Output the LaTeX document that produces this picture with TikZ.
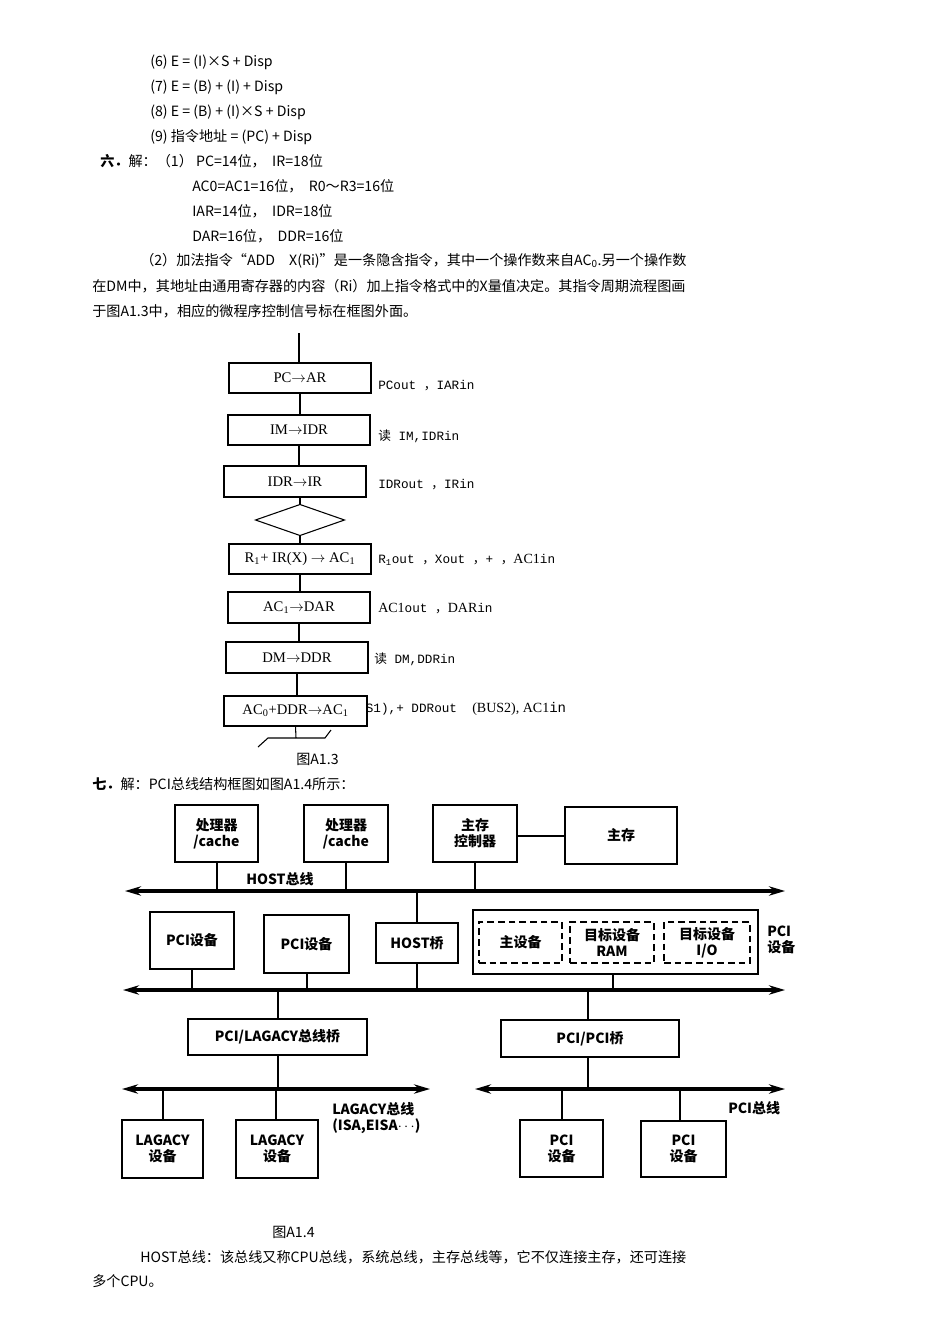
\documentclass[tikz,border=0pt]{standalone}
\usepackage{fontspec}
\setmainfont{Liberation Serif}
\newfontfamily\cjk{Noto Sans CJK SC}
\newfontfamily\mono{Liberation Mono}
\usetikzlibrary{shapes.geometric,arrows.meta}
\tikzset{
 txt/.style={anchor=west,inner sep=0pt,font=\cjk\fontsize{10.6}{12}\selectfont},
 flab/.style={anchor=west,inner sep=0pt,font=\mono\fontsize{9.5}{11}\selectfont},
 fbox/.style={draw,line width=0.8pt,inner sep=0pt,outer sep=0pt,fill=white,font=\fontsize{11}{12}\selectfont},
 bbox/.style={draw,line width=1.6pt,inner sep=0pt,outer sep=0pt,align=center,font=\cjk\bfseries\fontsize{10.5}{12}\selectfont},
 dbox/.style={bbox,dashed,dash pattern=on 5pt off 3pt},
 blab/.style={anchor=west,inner sep=0pt,align=left,font=\cjk\bfseries\fontsize{10.5}{12}\selectfont},
 conn/.style={line width=1.5pt},
 fconn/.style={line width=0.8pt},
 bus/.style={line width=2.4pt,{Stealth[length=12pt,width=7pt]}-{Stealth[length=12pt,width=7pt]}}
}
\newcommand{\bx}[7]{\node[#7,minimum width={(#4-#2)*0.75pt},minimum height={(#5-#3)*0.75pt}] (#1) at ({(#2+#4)/2},{(#3+#5)/2}) {#6};}
\begin{document}
\begin{tikzpicture}[x=0.75pt,y=-0.75pt]
\path[use as bounding box,fill=white] (0,0) rectangle (950,1344);
% top text
\node[txt] (t1) at (150,62) {(6) E = (I)×S + Disp};
\node[txt] (t2) at (150,87) {(7) E = (B) + (I) + Disp};
\node[txt] (t3) at (150,112) {(8) E = (B) + (I)×S + Disp};
\node[txt] (t4) at (150,137) {(9) 指令地址 = (PC) + Disp};
\node[txt] (t5) at (100,161) {{\bfseries 六．}解：（1） PC=14位，\ \ IR=18位};
\node[txt] (t6) at (192,186) {AC0=AC1=16位，\ \ R0～R3=16位};
\node[txt] (t7) at (192,211) {IAR=14位，\ \ IDR=18位};
\node[txt] (t8) at (192,236) {DAR=16位，\ \ DDR=16位};
\node[txt] (t9) at (140,261) {（2）加法指令“ADD\quad X(Ri)”是一条隐含指令，其中一个操作数来自AC\textsubscript{0}.另一个操作数};
\node[txt] (t10) at (92,286) {在DM中，其地址由通用寄存器的内容（Ri）加上指令格式中的X量值决定。其指令周期流程图画};
\node[txt] (t11) at (92,311) {于图A1.3中，相应的微程序控制信号标在框图外面。};
% flowchart
\coordinate (ftop) at (299,333);
\bx{f1}{229}{363}{371}{393}{PC$\rightarrow$AR}{fbox}
\bx{f2}{228}{415}{370}{445}{IM$\rightarrow$IDR}{fbox}
\bx{f3}{224}{466}{366}{497}{IDR$\rightarrow$IR}{fbox}
\node[diamond,draw,line width=0.8pt,minimum width=66.75pt,minimum height=23.25pt,inner sep=0pt,outer sep=0pt] (fd) at (300,520) {};
\bx{f4}{229}{544}{371}{574}{R\textsubscript{1}+ IR(X) $\rightarrow$ AC\textsubscript{1}}{fbox}
\bx{f5}{228}{592}{370}{623}{AC\textsubscript{1}$\rightarrow$DAR}{fbox}
\bx{f6}{226}{642}{368}{673}{DM$\rightarrow$DDR}{fbox}
\node[flab] (l7) at (358,709) {JS1),+ DDRout\ \ \fontsize{10.5}{12}\selectfont\rmfamily (BUS2), AC1\mono in};
\bx{f7}{224}{696}{367}{726}{AC\textsubscript{0}+DDR$\rightarrow$AC\textsubscript{1}}{fbox}
\node[flab] (l1) at (378,386) {PCout {\cjk ，}IARin};
\node[flab] (l2) at (378,436) {{\cjk 读} IM,IDRin};
\node[flab] (l3) at (378,485) {IDRout {\cjk ，}IRin};
\node[flab] (l4) at (378,560) {R\textsubscript{1}out {\cjk ，}Xout {\cjk ，}+ {\cjk ，}{\rmfamily\fontsize{10.5}{12}\selectfont AC1}in};
\node[flab] (l5) at (378,609) {{\rmfamily\fontsize{10.5}{12}\selectfont AC1}out {\cjk ，}{\rmfamily\fontsize{10.5}{12}\selectfont DAR}in};
\node[flab] (l6) at (374,659) {{\cjk 读} DM,DDRin};
\draw[fconn] (ftop) -- (ftop|-f1.north);
\draw[fconn] (f1.south) -- (f1.south|-f2.north);
\draw[fconn] (f2.south) -- (f2.south|-f3.north);
\draw[fconn] (fd.north|-f3.south) -- (fd.north);
\draw[fconn] (fd.south) -- (fd.south|-f4.north);
\draw[fconn] (f4.south) -- (f4.south|-f5.north);
\draw[fconn] (f5.south) -- (f5.south|-f6.north);
\draw[fconn] (f6.south) -- (f6.south|-f7.north);
\coordinate (fb) at (296,738);
\coordinate (fbl) at (268,738);
\coordinate (fbr) at (325,738);
\coordinate (fbl2) at (258,747);
\coordinate (fbr2) at (331,730);
\draw[fconn] (f7.south) -- (fb);
\draw[fconn] (fbl2) -- (fbl) -- (fbr) -- (fbr2);
\node[txt] (c1) at (296,759) {图A1.3};
\node[txt] (t12) at (92,784) {{\bfseries 七．}解：PCI总线结构框图如图A1.4所示：};
% bus diagram
\bx{p1}{175}{805}{258}{862}{处理器\\/cache}{bbox}
\bx{p2}{304}{805}{388}{862}{处理器\\/cache}{bbox}
\bx{mc}{433}{805}{517}{862}{主存\\控制器}{bbox}
\bx{mm}{565}{807}{677}{864}{主存}{bbox}
\draw[conn] (mc.east|-mm.west) -- (mm.west);
\coordinate (hl) at (125,891); \coordinate (hr) at (785,891);
\draw[bus] (hl) -- (hr);
\node[blab] (hlab) at (246,879) {HOST总线};
\draw[conn] (p1.south) -- (p1.south|-hl);
\draw[conn] (p2.south) -- (p2.south|-hl);
\draw[conn] (mc.south) -- (mc.south|-hl);
\bx{hb}{376}{923}{458}{963}{HOST桥}{bbox}
\bx{pd1}{150}{912}{234}{969}{PCI设备}{bbox}
\bx{pd2}{264}{915}{349}{973}{PCI设备}{bbox}
\bx{big}{473}{910}{758}{974}{}{bbox}
\bx{d1}{479}{922}{562}{963}{主设备}{dbox}
\bx{d2}{570}{922}{654}{963}{目标设备\\RAM}{dbox}
\bx{d3}{664}{922}{750}{963}{目标设备\\I/O}{dbox}
\node[blab] (pcilab) at (767,940) {PCI\\设备};
\coordinate (pl) at (123,990); \coordinate (pr) at (785,990);
\draw[bus] (pl) -- (pr);
\draw[conn] (hb.north|-hl) -- (hb.north);
\draw[conn] (hb.south) -- (hb.south|-pl);
\draw[conn] (pd1.south) -- (pd1.south|-pl);
\draw[conn] (pd2.south) -- (pd2.south|-pl);
\draw[conn] (613,974) coordinate (bigc) -- (bigc|-pl);
\bx{lb}{188}{1019}{367}{1055}{PCI/LAGACY总线桥}{bbox}
\bx{pb}{501}{1020}{679}{1057}{PCI/PCI桥}{bbox}
\draw[conn] (lb.north|-pl) -- (lb.north);
\draw[conn] (588,1020) coordinate (pbt) -- (pbt|-pl);
\coordinate (ll) at (122,1089); \coordinate (lr) at (430,1089);
\draw[bus] (ll) -- (lr);
\coordinate (ql) at (475,1089); \coordinate (qr) at (785,1089);
\draw[bus] (ql) -- (qr);
\draw[conn] (lb.south) -- (lb.south|-ll);
\draw[conn] (588,1057) coordinate (pbb) -- (pbb|-ql);
\bx{ld1}{122}{1120}{203}{1178}{LAGACY\\设备}{bbox}
\bx{ld2}{236}{1120}{318}{1178}{LAGACY\\设备}{bbox}
\bx{qd1}{520}{1120}{603}{1177}{PCI\\设备}{bbox}
\bx{qd2}{641}{1121}{726}{1177}{PCI\\设备}{bbox}
\draw[conn] (ld1.north) -- (ld1.north|-ll);
\draw[conn] (276,1120) coordinate (ld2t) -- (ld2t|-ll);
\draw[conn] (562,1120) coordinate (qd1t) -- (qd1t|-ql);
\draw[conn] (680,1121) coordinate (qd2t) -- (qd2t|-ql);
\node[blab] (llab) at (332,1118) {LAGACY总线\\(ISA,EISA$\cdots$)};
\node[blab] (qlab) at (728,1108) {PCI总线};
\node[txt] (c2) at (272,1232) {图A1.4};
\node[txt] (t13) at (140,1257) {HOST总线：该总线又称CPU总线，系统总线，主存总线等，它不仅连接主存，还可连接};
\node[txt] (t14) at (92,1281) {多个CPU。};
\end{tikzpicture}
\end{document}
